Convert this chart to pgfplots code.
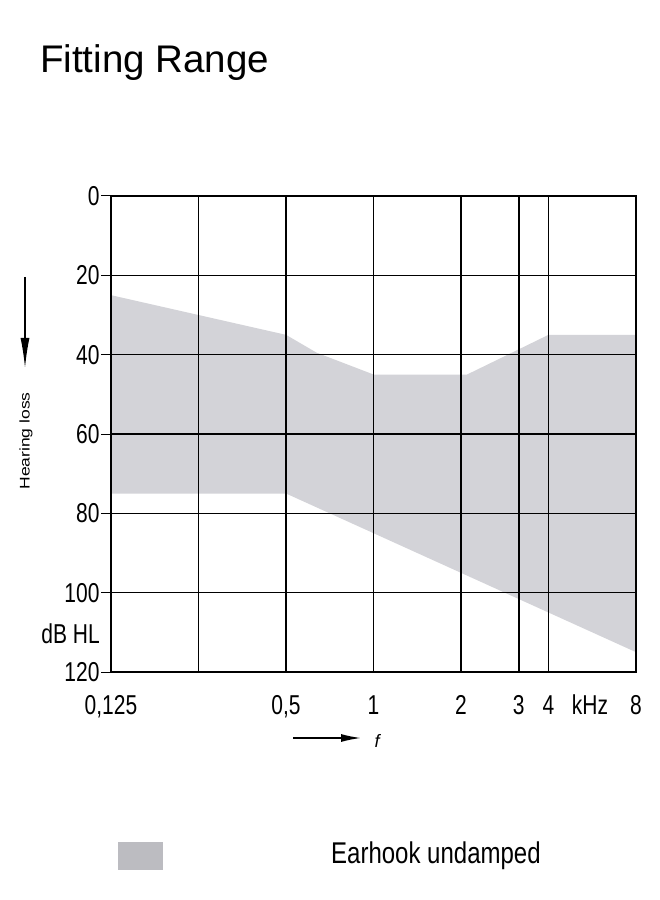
\documentclass[border=0pt]{standalone}
\usepackage{fontspec}
\setmainfont{Liberation Sans}
\usepackage{pgfplots}
\pgfplotsset{compat=1.18}
\usetikzlibrary{arrows.meta}
\definecolor{band}{RGB}{211,211,216}
\definecolor{legband}{RGB}{188,188,193}
\begin{document}
\begin{tikzpicture}
\useasboundingbox (0pt,0pt) rectangle (660pt,900pt);
\fill[white] (0pt,0pt) rectangle (660pt,900pt);
\begin{axis}[at={(111pt,228pt)}, anchor=south west, scale only axis,
  width=525pt, height=476pt,
  xmin=0, xmax=6, ymin=0, ymax=120, y dir=reverse,
  axis on top, grid=major,
  major grid style={black, line width=1.5pt},
  axis line style={black, line width=1.5pt},
  xtick={0,1,2,3,4,4.66,5,6},
  xticklabels={{0,125},{},{0,5},1,2,3,4,8},
  ytick={0,20,40,60,80,100,120},
  xtick style={draw=none},
  ytick pos=left, ytick style={black, line width=1pt},
  tick align=outside, major tick length=10pt,
  /pgf/number format/assume math mode=true,
  tick label style={font=\fontsize{21}{21}\selectfont, yscale=1.3},
  xticklabel style={anchor=base, yshift=-25pt},
  yticklabel style={xshift=2pt},
]
\addplot[fill=band, draw=none] coordinates {
  (0,25) (2,35) (2.35,39.5) (3,45) (4.07,45) (5,35) (6,35)
  (6,115) (2,75) (0,75)
} -- cycle;
\end{axis}
\begin{scope}[yshift=900pt, x=1pt, y=-1pt]
\node[anchor=base west, inner sep=0, font=\fontsize{38.5}{40}\selectfont] at (40,73) {Fitting Range};
\node[anchor=east, inner sep=0, font=\fontsize{21}{21}\selectfont, yscale=1.3] at (100,634) {dB HL};
\node[anchor=base, inner sep=0, font=\fontsize{21}{21}\selectfont, yscale=1.3] at (590,715) {kHz};
\node[rotate=90, xscale=1.25, inner sep=0, font=\fontsize{14}{14}\selectfont] at (26,441) {Hearing loss};
\draw[line width=1.5pt, -{Latex[length=30pt,width=9pt]}] (25,277) -- (25,368);
\draw[line width=1.5pt, -{Latex[length=20pt,width=8pt]}] (293,738) -- (361,738);
\node[inner sep=0, font=\fontsize{18}{18}\selectfont\itshape] at (377,741) {f};
\fill[legband] (118,842) rectangle (163,870);
\node[anchor=west, inner sep=0, font=\fontsize{24}{24}\selectfont, yscale=1.25] at (331,856) {Earhook undamped};
\end{scope}
\end{tikzpicture}
\end{document}
